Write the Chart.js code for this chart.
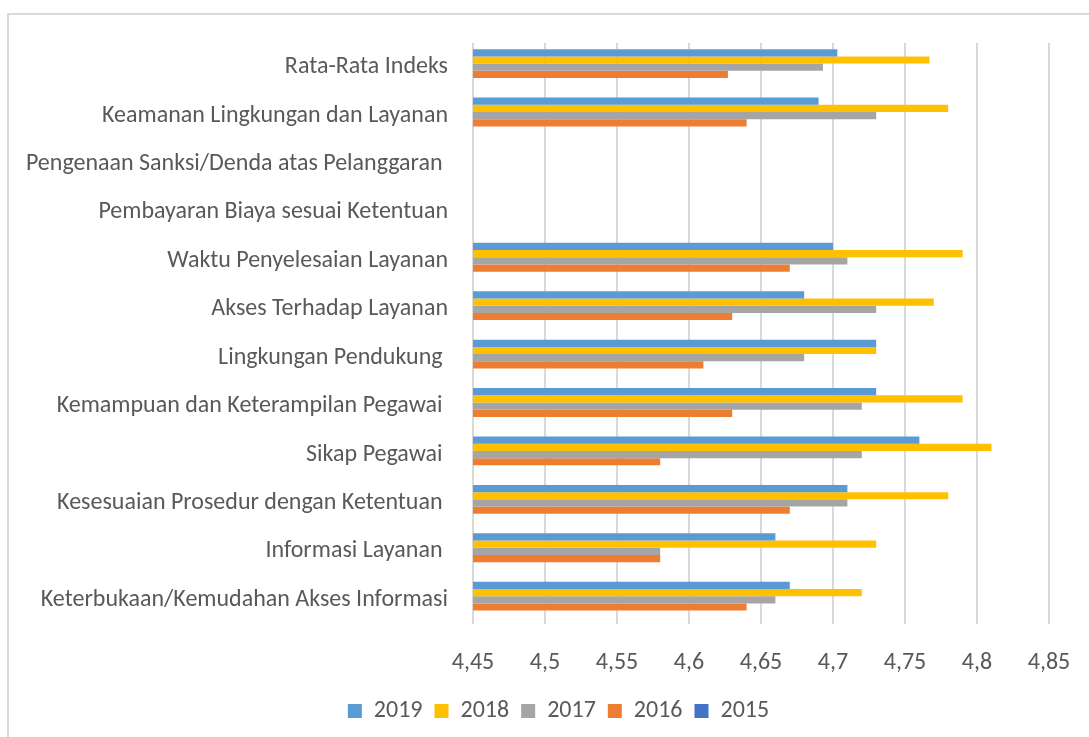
<!DOCTYPE html>
<html>
<head>
<meta charset="utf-8">
<script src="https://cdn.jsdelivr.net/npm/chart.js@4"></script>
<style>
  html, body { margin: 0; padding: 0; background: #fff; overflow: hidden; }
  #wrap { position: relative; width: 1089px; height: 737px; }
  #frame { position: absolute; left: 7px; top: 13px; width: 1200px; height: 800px;
           border-left: 2px solid #d9d9d9; border-top: 2px solid #d9d9d9; }
  #chart { position: absolute; left: 0; top: 0; }
</style>
</head>
<body>
<div id="wrap">
  <div id="frame"></div>
  <canvas id="chart" width="1089" height="737"></canvas>
</div>
<script>
  let categories = [
    "Rata-Rata Indeks",
    "Keamanan Lingkungan dan Layanan",
    "Pengenaan Sanksi/Denda atas Pelanggaran ",
    "Pembayaran Biaya sesuai Ketentuan",
    "Waktu Penyelesaian Layanan",
    "Akses Terhadap Layanan",
    "Lingkungan Pendukung ",
    "Kemampuan dan Keterampilan Pegawai ",
    "Sikap Pegawai ",
    "Kesesuaian Prosedur dengan Ketentuan ",
    "Informasi Layanan ",
    "Keterbukaan/Kemudahan Akses Informasi",
  ];

  let years = ["2019", "2018", "2017", "2016", "2015"];

  let values2019 = [4.703, 4.69, null, null, 4.70, 4.68, 4.73, 4.73, 4.76, 4.71, 4.66, 4.67];
  let values2018 = [4.767, 4.78, null, null, 4.79, 4.77, 4.73, 4.79, 4.81, 4.78, 4.73, 4.72];
  let values2017 = [4.693, 4.73, null, null, 4.71, 4.73, 4.68, 4.72, 4.72, 4.71, 4.58, 4.66];
  let values2016 = [4.627, 4.64, null, null, 4.67, 4.63, 4.61, 4.63, 4.58, 4.67, 4.58, 4.64];
  let values2015 = [null, null, null, null, null, null, null, null, null, null, null, null];

  let tickMin = 4.45;
  let tickMax = 4.85;
  let tickStep = 0.05;

  let colors = ["#5B9BD5", "#FFC000", "#A5A5A5", "#ED7D31", "#4472C4"];
  let series = [values2019, values2018, values2017, values2016, values2015];

  let fontFamily = "Carlito, Calibri, Lato, 'Open Sans', sans-serif";
  let textColor = "#595959";

  // legend is centred on the whole frame in the original, not on 0..plot right
  let shiftLegend = {
    id: "shiftLegend",
    afterLayout(chart) {
      chart.legend.left += 34;
      chart.legend.right += 34;
    },
  };

  new Chart(document.getElementById("chart"), {
    type: "bar",
    data: {
      labels: categories,
      datasets: series.map((data, i) => ({
        label: years[i],
        data: data,
        backgroundColor: colors[i],
        borderWidth: 0,
        categoryPercentage: 0.745,
        barPercentage: 1,
      })),
    },
    options: {
      indexAxis: "y",
      responsive: false,
      animation: false,
      layout: {
        padding: { top: 43, right: 40, bottom: 4, left: 0 },
      },
      scales: {
        x: {
          min: tickMin,
          max: tickMax,
          ticks: {
            stepSize: tickStep,
            padding: 25,
            color: textColor,
            font: { family: fontFamily, size: 24 },
            callback: value => String(+value.toFixed(2)).replace(".", ","),
          },
          grid: { color: "#d9d9d9", lineWidth: 2, drawTicks: false },
          border: { display: false },
          afterFit: scale => {
            scale.height = 63;
            // tick padding would otherwise eat into the right edge
            scale.paddingLeft = 0;
            scale.paddingRight = 0;
          },
        },
        y: {
          ticks: {
            padding: 25,
            color: textColor,
            font: { family: fontFamily, size: 24 },
          },
          grid: { display: false, drawTicks: false },
          border: { display: false },
          afterFit: scale => { scale.width = 473; },
        },
      },
      plugins: {
        legend: {
          position: "bottom",
          labels: {
            boxWidth: 14,
            boxHeight: 14,
            padding: 12,
            color: textColor,
            font: { family: fontFamily, size: 24 },
          },
        },
        tooltip: { enabled: false },
      },
    },
    plugins: [shiftLegend],
  });
</script>
</body>
</html>
